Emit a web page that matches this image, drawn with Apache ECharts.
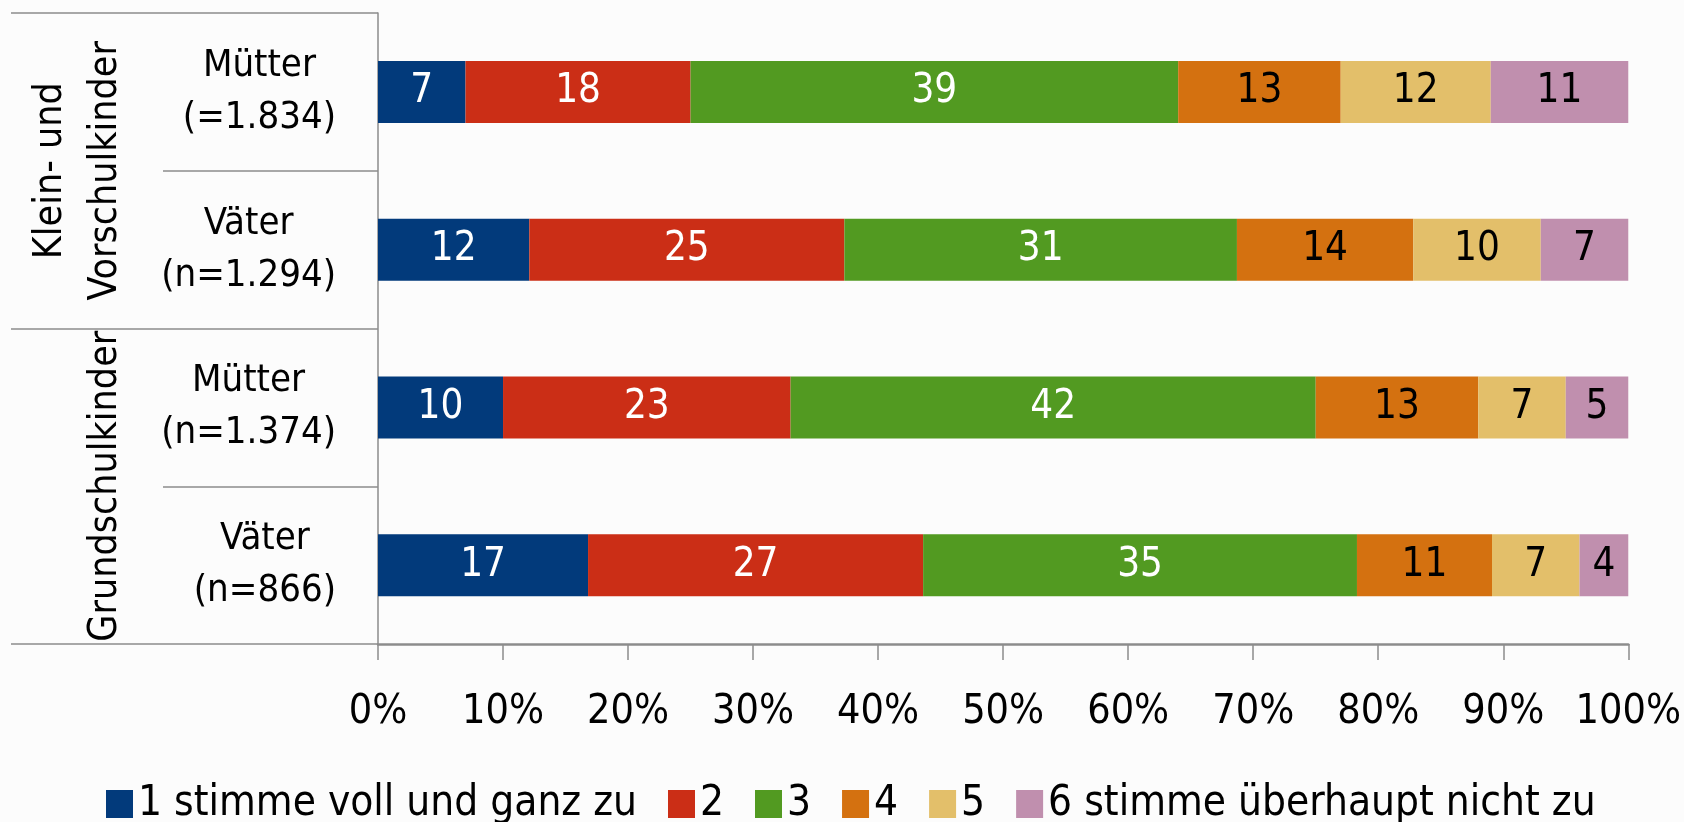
<!DOCTYPE html>
<html>
<head>
<meta charset="utf-8">
<script src="https://cdn.jsdelivr.net/npm/echarts@6/dist/echarts.min.js"></script>
<style>
html,body{margin:0;padding:0;background:#fcfcfc;}
#chart{width:1684px;height:822px;}
</style>
</head>
<body>
<div id="chart"></div>
<script>
const categories = ['Mütter\n(=1.834)', 'Väter\n(n=1.294)', 'Mütter\n(n=1.374)', 'Väter\n(n=866)'];
const groups = ['Klein- und\nVorschulkinder', 'Grundschulkinder'];
const seriesNames = ['1 stimme voll und ganz zu', '2', '3', '4', '5', '6 stimme überhaupt nicht zu'];
const s1 = [7, 12.1, 10, 16.8];
const s2 = [18, 25.2, 23, 26.8];
const s3 = [39, 31.4, 42, 34.7];
const s4 = [13, 14.1, 13, 10.8];
const s5 = [12, 10.2, 7, 7.0];
const s6 = [11, 7.0, 5, 3.9];
const xTicks = [0, 10, 20, 30, 40, 50, 60, 70, 80, 90, 100];

const FONT = "'DejaVu Sans Condensed', 'Liberation Sans Narrow', sans-serif";
const colors = ['#023a7b', '#cb2e16', '#529a21', '#d47110', '#e3bf6a', '#c08fae'];
const labelColors = ['#ffffff', '#ffffff', '#ffffff', '#000000', '#000000', '#000000'];
const values = [s1, s2, s3, s4, s5, s6];

const chart = echarts.init(document.getElementById('chart'));
const option = {
  backgroundColor: '#fcfcfc',
  animation: false,
  textStyle: { fontFamily: FONT },
  grid: { left: 378, right: 54, top: 13, bottom: 178, containLabel: false },
  legend: {
    data: seriesNames,
    left: 101,
    top: 778,
    icon: 'rect',
    itemWidth: 27,
    itemHeight: 28,
    itemGap: 31,
    textStyle: { fontFamily: FONT, fontSize: 42, color: '#000' }
  },
  xAxis: {
    type: 'value',
    min: 0,
    max: 100,
    interval: 10,
    axisLine: { show: true, lineStyle: { color: '#8c8c8c', width: 2.5 } },
    axisTick: { show: true, length: 16, lineStyle: { color: '#8c8c8c', width: 1.5 } },
    splitLine: { show: false },
    axisLabel: {
      margin: 48,
      fontSize: 41,
      color: '#000',
      fontFamily: FONT,
      formatter: function (v) { return xTicks.indexOf(v) >= 0 ? v + '%' : ''; }
    }
  },
  yAxis: [
    {
      type: 'category',
      data: categories,
      inverse: true,
      axisLine: { show: true, lineStyle: { color: '#8c8c8c', width: 1.5 } },
      axisTick: { show: true, length: 215, lineStyle: { color: '#8c8c8c', width: 1.5 } },
      axisLabel: {
        interval: 0,
        margin: 42,
        color: '#000',
        fontFamily: FONT,
        fontSize: 38,
        lineHeight: 52,
        formatter: function (v) { return v.split('\n').map(function (s) { return '{a|' + s + '}'; }).join('\n'); },
        rich: { a: { align: 'center', fontSize: 38, lineHeight: 52, fontFamily: FONT, color: '#000' } }
      }
    },
    {
      type: 'category',
      data: groups,
      inverse: true,
      position: 'left',
      axisLine: { show: false },
      axisTick: { show: true, length: 367, lineStyle: { color: '#8c8c8c', width: 1.5 } },
      axisLabel: {
        interval: 0,
        hideOverlap: false,
        rotate: 90,
        margin: 245,
        color: '#000',
        fontFamily: FONT,
        fontSize: 39,
        lineHeight: 55,
        align: 'center'
      }
    }
  ],
  series: seriesNames.map(function (name, i) {
    return {
      name: name,
      type: 'bar',
      stack: 'total',
      yAxisIndex: 0,
      barWidth: 62,
      data: values[i],
      itemStyle: { color: colors[i] },
      label: {
        show: true,
        position: 'inside',
        color: labelColors[i],
        fontSize: 40,
        fontFamily: FONT,
        formatter: function (p) { return Math.round(p.value); }
      }
    };
  })
};
chart.setOption(option);
</script>
</body>
</html>
